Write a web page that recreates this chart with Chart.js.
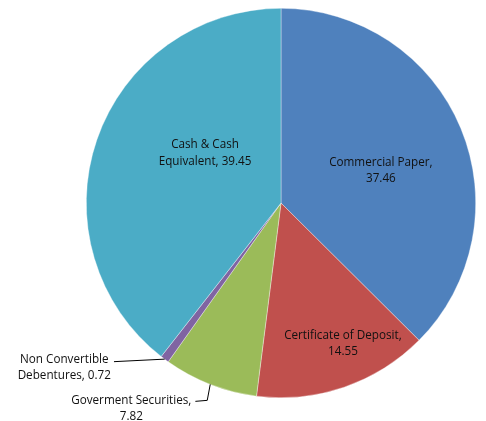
<!DOCTYPE html>
<html>
<head>
<meta charset="utf-8">
<script src="https://cdn.jsdelivr.net/npm/chart.js@4/dist/chart.umd.min.js"></script>
<style>
  html, body { margin: 0; padding: 0; background: #fff; }
  #wrap { width: 486px; height: 421px; }
</style>
</head>
<body>
<div id="wrap"><canvas id="pie"></canvas></div>
<script>
const categories = ["Commercial Paper", "Certificate of Deposit", "Goverment Securities", "Non Convertible Debentures", "Cash & Cash Equivalent"];
const values = [37.46, 14.55, 7.82, 0.72, 39.45];
const colors = ["#4F81BD", "#C0504D", "#9BBB59", "#8064A2", "#4BACC6"];

// label text lines, and where they sit relative to the pie (in units of radius)
const labelLines = [
  ["Commercial Paper,", "37.46"],
  ["Certificate of Deposit,", "14.55"],
  ["Goverment Securities,", "7.82"],
  ["Non Convertible", "Debentures, 0.72"],
  ["Cash & Cash", "Equivalent, 39.45"]
];
const labelPos = [
  { dx: 0.513, dy: -0.165 },
  { dx: 0.318, dy: 0.722 },
  { dx: -0.769, dy: 1.056, leader: "elbow" },
  { dx: -1.113, dy: 0.847, leader: "straight" },
  { dx: -0.39, dy: -0.255 }
];

const FONT = "11.7px 'Open Sans'";
const LINE_H = 16.5;

const labelPlugin = {
  id: "sliceLabels",
  afterDatasetsDraw(chart) {
    const ctx = chart.ctx;
    const arcs = chart.getDatasetMeta(0).data;
    ctx.save();
    ctx.font = FONT;
    ctx.fillStyle = "#111";
    ctx.textAlign = "center";
    ctx.textBaseline = "middle";
    arcs.forEach((arc, i) => {
      const r = arc.outerRadius;
      const pos = labelPos[i];
      const cx = arc.x + pos.dx * r;
      const cy = arc.y + pos.dy * r;
      const lines = labelLines[i];
      const top = cy - (lines.length - 1) * LINE_H / 2;
      lines.forEach((t, k) => ctx.fillText(t, cx, top + k * LINE_H));

      if (pos.leader) {
        const mid = (arc.startAngle + arc.endAngle) / 2;
        const ex = arc.x + Math.cos(mid) * r;
        const ey = arc.y + Math.sin(mid) * r;
        const w = ctx.measureText(lines[0]).width;
        const w2 = ctx.measureText(lines[1]).width;
        ctx.strokeStyle = "#000";
        ctx.lineWidth = 1;
        ctx.beginPath();
        if (pos.leader === "straight") {
          const tx = cx + Math.max(w, w2) / 2 + 3;
          ctx.moveTo(ex, ey);
          ctx.lineTo(tx, top + 2);
        } else {
          const tx = cx + w / 2 + 4;
          ctx.moveTo(ex, ey);
          ctx.lineTo(ex - 3, top);
          ctx.lineTo(tx, top + 1);
        }
        ctx.stroke();
      }
    });
    ctx.restore();
  }
};

new Chart(document.getElementById("pie"), {
  type: "pie",
  data: {
    labels: categories,
    datasets: [{
      data: values,
      backgroundColor: colors,
      borderColor: "rgba(255,255,255,0.6)",
      borderWidth: 0.6
    }]
  },
  options: {
    responsive: true,
    maintainAspectRatio: false,
    animation: false,
    layout: { padding: { left: 86, right: 10, top: 8, bottom: 23 } },
    plugins: {
      legend: { display: false },
      tooltip: { enabled: false }
    }
  },
  plugins: [labelPlugin]
});
</script>
</body>
</html>
